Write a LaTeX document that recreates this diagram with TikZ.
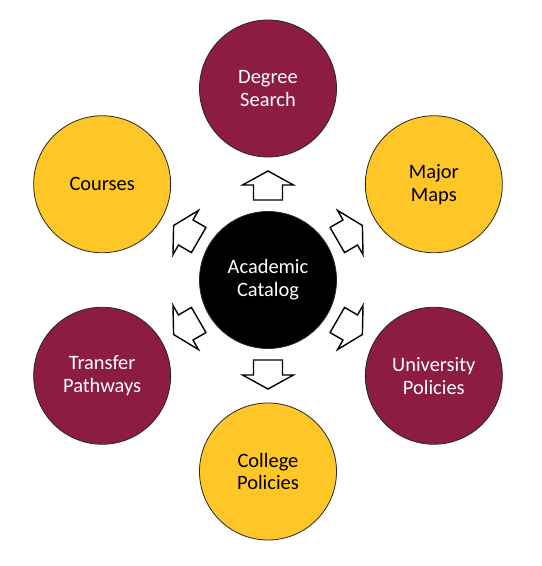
\documentclass[tikz,border=0pt]{standalone}
\usepackage{fontspec}
\setmainfont{Carlito}
\usetikzlibrary{positioning}
\definecolor{catmaroon}{HTML}{8C1D40}
\definecolor{catgold}{HTML}{FFC627}

\begin{document}
\begin{tikzpicture}[x=1bp,y=1bp]
\tikzstyle{ball}=[circle, minimum size=137bp,
inner sep=0pt,outer sep=0pt,
draw=black!85,line width=0.8pt,align=center,
font=\fontsize{20.5}{23}\selectfont]
\tikzstyle{maroonball}=[ball,fill=catmaroon,text=white]
\tikzstyle{goldball}=[ball,fill=catgold,text=black]
\tikzstyle{blockarrow}=[draw=black,line width=1.4pt,fill=white,line join=miter]

\useasboundingbox (-268,-286) rectangle (274,280);

\node[ball,fill=black,text=white] at (0,0) (cat) {Academic\\Catalog};
\node[maroonball] at (90:191.5) (deg) {Degree\\Search};
\node[goldball] at (30:191.5) (maj) {Major\\Maps};
\node[maroonball] at (-30:191.5) (uni) {University\\Policies};
\node[goldball] at (-90:191.5) (col) {College\\Policies};
\node[maroonball] at (-150:191.5) (tra) {Transfer\\Pathways};
\node[goldball] at (150:191.5) (cou) {Courses};

% hollow arrows pointing out of the catalog
\foreach \a in {90,30,-30,-90,-150,150}
\draw[blockarrow,rotate=\a] (80,-14.5) -- (95,-14.5) -- (95,-25.5) -- (109,0)
  -- (95,25.5) -- (95,14.5) -- (80,14.5) -- cycle;

\end{tikzpicture}
\end{document}
